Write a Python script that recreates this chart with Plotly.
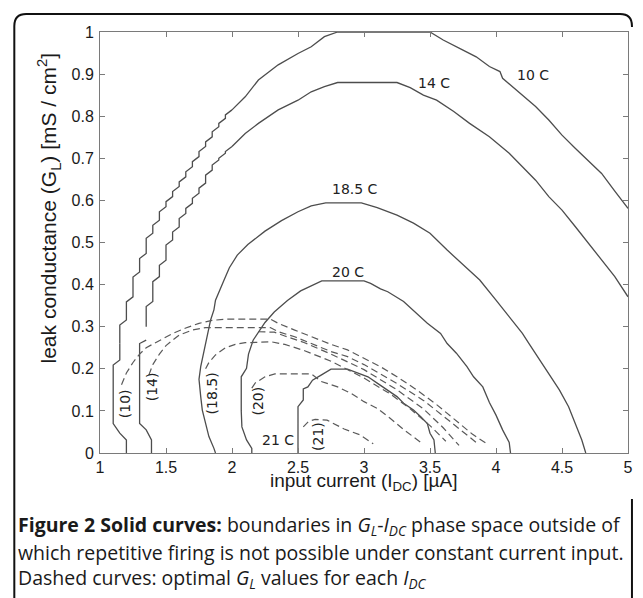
import plotly.graph_objects as go

# ---------------- data ----------------
x_ticks = [1, 1.5, 2, 2.5, 3, 3.5, 4, 4.5, 5]
x_tick_text = ["1", "1.5", "2", "2.5", "3", "3.5", "4", "4.5", "5"]
y_ticks = [0, 0.1, 0.2, 0.3, 0.4, 0.5, 0.6, 0.7, 0.8, 0.9, 1]
y_tick_text = ["0", "0.1", "0.2", "0.3", "0.4", "0.5", "0.6", "0.7", "0.8", "0.9", "1"]

# solid boundary curves (each split into: lower part, stair-stepped rising part, upper/right part)
c10_low_x = [1.20, 1.20, 1.15, 1.10, 1.10, 1.15, 1.15]
c10_low_y = [0.000, 0.031, 0.047, 0.070, 0.209, 0.221, 0.260]
c10_step_x = [1.15, 1.20, 1.25, 1.30, 1.35, 1.40, 1.45, 1.50, 1.55, 1.60, 1.65, 1.70, 1.75, 1.80,
              1.85, 1.90, 1.95, 2.00]
c10_step_y = [0.260, 0.316, 0.371, 0.430, 0.474, 0.522, 0.553, 0.585, 0.609, 0.633, 0.656, 0.680,
              0.704, 0.728, 0.751, 0.775, 0.795, 0.815]
c10_up_x = [2.00, 2.10, 2.20, 2.35, 2.50, 2.60, 2.70, 2.80, 3.50, 3.60, 3.75, 3.85, 3.95, 4.03, 4.05,
            4.20, 4.30, 4.40, 4.50, 4.60, 4.70, 4.80, 4.90, 4.95, 5.00]
c10_up_y = [0.815, 0.846, 0.886, 0.922, 0.949, 0.965, 0.989, 1.000, 1.000, 0.981, 0.957, 0.941, 0.918,
            0.906, 0.890, 0.850, 0.823, 0.791, 0.755, 0.724, 0.694, 0.664, 0.622, 0.601, 0.581]

c14_low_x = [1.39, 1.39, 1.35, 1.30, 1.30, 1.35]
c14_low_y = [0.000, 0.031, 0.055, 0.070, 0.260, 0.268]
c14_step_x = [1.35, 1.40, 1.45, 1.50, 1.55, 1.60, 1.65, 1.70, 1.75, 1.80, 1.85, 1.90, 1.95, 2.00]
c14_step_y = [0.300, 0.360, 0.419, 0.458, 0.506, 0.537, 0.569, 0.593, 0.617, 0.641, 0.672, 0.696,
              0.712, 0.728]
c14_up_x = [2.00, 2.10, 2.20, 2.35, 2.50, 2.60, 2.70, 2.80, 3.25, 3.35, 3.45, 3.55, 3.68, 3.80, 3.95,
            4.10, 4.20, 4.30, 4.40, 4.50, 4.60, 4.70, 4.80, 4.90, 5.00]
c14_up_y = [0.728, 0.759, 0.783, 0.815, 0.838, 0.858, 0.870, 0.880, 0.880, 0.868, 0.850, 0.838, 0.811,
            0.783, 0.751, 0.712, 0.680, 0.648, 0.609, 0.577, 0.538, 0.498, 0.458, 0.419, 0.371]

c185_x = [1.875, 1.863, 1.825, 1.800, 1.775, 1.763, 1.750, 1.763, 1.788, 1.813, 1.838, 1.863, 1.875,
          1.940, 1.980, 2.040, 2.120, 2.250, 2.375, 2.500, 2.600, 2.710, 2.980, 3.100, 3.250, 3.375,
          3.500, 3.630, 3.750, 3.877, 4.000, 4.100, 4.200, 4.250, 4.330, 4.400, 4.480, 4.550, 4.600,
          4.650, 4.680]
c185_y = [0.000, 0.011, 0.039, 0.070, 0.102, 0.134, 0.175, 0.205, 0.245, 0.276, 0.316, 0.340, 0.363,
          0.411, 0.440, 0.470, 0.495, 0.527, 0.552, 0.573, 0.587, 0.594, 0.594, 0.583, 0.565, 0.546,
          0.522, 0.482, 0.448, 0.411, 0.363, 0.324, 0.284, 0.260, 0.221, 0.189, 0.150, 0.110, 0.070,
          0.031, 0.000]

c20_x = [2.15, 2.15, 2.11, 2.075, 2.07, 2.07, 2.11, 2.125, 2.16, 2.20, 2.25, 2.32, 2.42, 2.52, 2.62,
         2.68, 3.00, 3.05, 3.125, 3.18, 3.30, 3.43, 3.48, 3.58, 3.63, 3.70, 3.78, 3.83, 3.90, 3.95,
         4.00, 4.05, 4.10, 4.11]
c20_y = [0.000, 0.011, 0.031, 0.062, 0.100, 0.181, 0.201, 0.235, 0.268, 0.288, 0.310, 0.335, 0.362,
         0.385, 0.400, 0.409, 0.409, 0.403, 0.390, 0.383, 0.360, 0.324, 0.308, 0.284, 0.260, 0.237,
         0.205, 0.181, 0.157, 0.120, 0.090, 0.055, 0.025, 0.000]

c21_x = [2.50, 2.50, 2.54, 2.54, 2.575, 2.61, 2.675, 2.75, 2.875, 2.925, 3.03, 3.10, 3.18, 3.25, 3.30,
         3.375, 3.43, 3.48, 3.50, 3.53, 3.54]
c21_y = [0.000, 0.110, 0.126, 0.152, 0.157, 0.173, 0.185, 0.199, 0.199, 0.193, 0.181, 0.166, 0.150,
         0.134, 0.118, 0.102, 0.086, 0.070, 0.047, 0.031, 0.000]

# dashed optimal-G_L curves
d10_x = [1.163, 1.20, 1.25, 1.30, 1.35, 1.45, 1.55, 1.65, 1.75, 1.85, 1.95, 2.29, 2.35, 2.475, 2.60,
         2.75, 2.875, 3.00, 3.125, 3.25, 3.40, 3.55, 3.70, 3.82, 3.94]
d10_y = [0.162, 0.190, 0.215, 0.235, 0.250, 0.268, 0.284, 0.297, 0.308, 0.315, 0.318, 0.318, 0.308,
         0.292, 0.276, 0.258, 0.245, 0.225, 0.205, 0.181, 0.150, 0.115, 0.075, 0.045, 0.020]

d14_x = [1.37, 1.40, 1.45, 1.50, 1.55, 1.60, 1.70, 1.80, 2.29, 2.35, 2.475, 2.60, 2.75, 2.875, 3.00,
         3.25, 3.45, 3.60, 3.75, 3.87]
d14_y = [0.185, 0.210, 0.235, 0.255, 0.268, 0.280, 0.292, 0.298, 0.298, 0.288, 0.276, 0.260, 0.241,
         0.229, 0.210, 0.165, 0.125, 0.088, 0.050, 0.020]

d20b_x = [2.20, 2.32, 2.40, 2.55, 2.75, 3.00, 3.25, 3.45, 3.60, 3.72]
d20b_y = [0.288, 0.287, 0.278, 0.262, 0.235, 0.198, 0.150, 0.105, 0.060, 0.018]

d185_x = [1.80, 1.825, 1.875, 1.95, 2.025, 2.10, 2.30, 2.40, 2.55, 2.75, 3.00, 3.20, 3.35, 3.50, 3.62]
d185_y = [0.200, 0.215, 0.233, 0.250, 0.258, 0.262, 0.264, 0.258, 0.243, 0.218, 0.178, 0.140, 0.105,
          0.065, 0.028]

d20_x = [2.15, 2.175, 2.25, 2.325, 2.60, 2.675, 2.80, 2.90, 3.00, 3.10, 3.20, 3.30, 3.43]
d20_y = [0.154, 0.166, 0.181, 0.188, 0.188, 0.170, 0.157, 0.142, 0.122, 0.106, 0.082, 0.056, 0.025]

d21_x = [2.54, 2.58, 2.63, 2.72, 2.85, 2.97, 3.07]
d21_y = [0.062, 0.075, 0.080, 0.078, 0.057, 0.043, 0.022]

# in-plot labels
temp_labels = ["10 C", "14 C", "18.5 C", "20 C", "21 C"]
temp_label_x = [4.28, 3.53, 2.93, 2.88, 2.345]
temp_label_y = [0.898, 0.878, 0.626, 0.431, 0.031]
opt_labels = ["(10)", "(14)", "(18.5)", "(20)", "(21)"]
opt_label_x = [1.19, 1.40, 1.85, 2.195, 2.65]
opt_label_y = [0.116, 0.158, 0.142, 0.124, 0.040]


def stairs(xs, ys, notch=0.012):
    """Grid-contour look: rise vertically at each sampled x, then a short diagonal to the next sample."""
    ox, oy = [], []
    for i in range(len(xs)):
        ox.append(xs[i]); oy.append(ys[i])
        if i < len(xs) - 1:
            ox.append(xs[i]); oy.append(max(ys[i], ys[i + 1] - notch))
    return ox, oy


# ---------------- figure ----------------
W, H = 643, 598
ML, MR, MT, MB = 100, 10, 32, 145
PW, PH = W - ML - MR, H - MT - MB


def px(xp):
    return (xp - ML) / PW


def py(yp):
    return (H - MB - yp) / PH


SOLID = dict(color="#4d4d4d", width=1.3)
DASH = dict(color="#5a5a5a", width=1.2, dash="7px,4px")

fig = go.Figure()
solid_parts = [
    (c10_low_x, c10_low_y), stairs(c10_step_x, c10_step_y), (c10_up_x, c10_up_y),
    (c14_low_x, c14_low_y), stairs(c14_step_x, c14_step_y), (c14_up_x, c14_up_y),
    (c185_x, c185_y), (c20_x, c20_y), (c21_x, c21_y),
]
for xs, ys in solid_parts:
    fig.add_trace(go.Scatter(x=xs, y=ys, mode="lines", line=SOLID, hoverinfo="skip"))
for xs, ys in [(d10_x, d10_y), (d14_x, d14_y), (d20b_x, d20b_y), (d185_x, d185_y),
               (d20_x, d20_y), (d21_x, d21_y)]:
    fig.add_trace(go.Scatter(x=xs, y=ys, mode="lines", line=DASH, hoverinfo="skip"))

ann = []
LBL_FONT = dict(family="DejaVu Sans", size=14, color="#222222")
for t, x, y in zip(temp_labels, temp_label_x, temp_label_y):
    ann.append(dict(x=x, y=y, xref="x", yref="y", text=t, showarrow=False, font=LBL_FONT,
                    xanchor="center", yanchor="middle"))
for t, x, y in zip(opt_labels, opt_label_x, opt_label_y):
    ann.append(dict(x=x, y=y, xref="x", yref="y", text=t, showarrow=False, font=LBL_FONT,
                    textangle=-90, xanchor="center", yanchor="middle"))

ann.append(dict(x=px(49), y=py(208), xref="paper", yref="paper",
                text="leak conductance (G<sub>L</sub>) [mS / cm<sup>2</sup>]",
                showarrow=False, textangle=-90,
                font=dict(family="Liberation Sans, Arial, sans-serif", size=21, color="#1a1a1a"),
                xanchor="center", yanchor="middle"))
ann.append(dict(x=px(366.5), y=py(482), xref="paper", yref="paper",
                text="input current (I<sub>DC</sub>) [µA]",
                showarrow=False,
                font=dict(family="Liberation Sans, Arial, sans-serif", size=19, color="#1a1a1a"),
                xanchor="center", yanchor="middle"))

CAP_FONT = dict(family="Open Sans, Noto Sans, sans-serif", size=19.5, color="#1a1a1a")
cap_lines = [
    "<b>Figure 2 Solid curves:</b> boundaries in <i>G<sub>L</sub></i>-<i>I<sub>DC</sub></i> phase space outside of",
    "which repetitive firing is not possible under constant current input.",
    "Dashed curves: optimal <i>G<sub>L</sub></i> values for each <i>I<sub>DC</sub></i>",
]
cap_y = [525.6, 552, 578]
for t, y in zip(cap_lines, cap_y):
    ann.append(dict(x=px(15), y=py(y), xref="paper", yref="paper", text=t, showarrow=False,
                    font=CAP_FONT, xanchor="left", yanchor="middle", align="left"))

# rounded frame around the figure panel
L, R, T, B, RAD = 13.5, 637, 14, 602, 12
frame_main = (f"M {px(L)},{py(B)} L {px(L)},{py(T + RAD)} "
              f"Q {px(L)},{py(T)} {px(L + RAD)},{py(T)} L {px(R - RAD)},{py(T)} "
              f"Q {px(R)},{py(T)} {px(R)},{py(T + RAD)} L {px(R)},{py(27)}")
frame_right = f"M {px(R)},{py(499)} L {px(R)},{py(B)}"
shapes = [
    dict(type="path", path=frame_main, xref="paper", yref="paper", line=dict(color="#111", width=2)),
    dict(type="path", path=frame_right, xref="paper", yref="paper", line=dict(color="#111", width=2)),
]

TICK_FONT = dict(family="Liberation Sans, Arial, sans-serif", size=16, color="#1a1a1a")
common_axis = dict(showgrid=False, zeroline=False, showline=True, linecolor="#7a7a7a", linewidth=1,
                   ticks="inside", ticklen=5, tickcolor="#7a7a7a", mirror="ticks", tickfont=TICK_FONT)

fig.update_layout(
    width=W, height=H,
    margin=dict(l=ML, r=MR, t=MT, b=MB),
    paper_bgcolor="white", plot_bgcolor="white",
    showlegend=False,
    xaxis=dict(range=[1, 5], tickvals=x_ticks, ticktext=x_tick_text, **common_axis),
    yaxis=dict(range=[0, 1], tickvals=y_ticks, ticktext=y_tick_text, ticklabelstandoff=2, **common_axis),
    annotations=ann,
    shapes=shapes,
)

fig.write_html("out.html", config={"displayModeBar": False},
               post_script="document.body.style.margin='0';")
